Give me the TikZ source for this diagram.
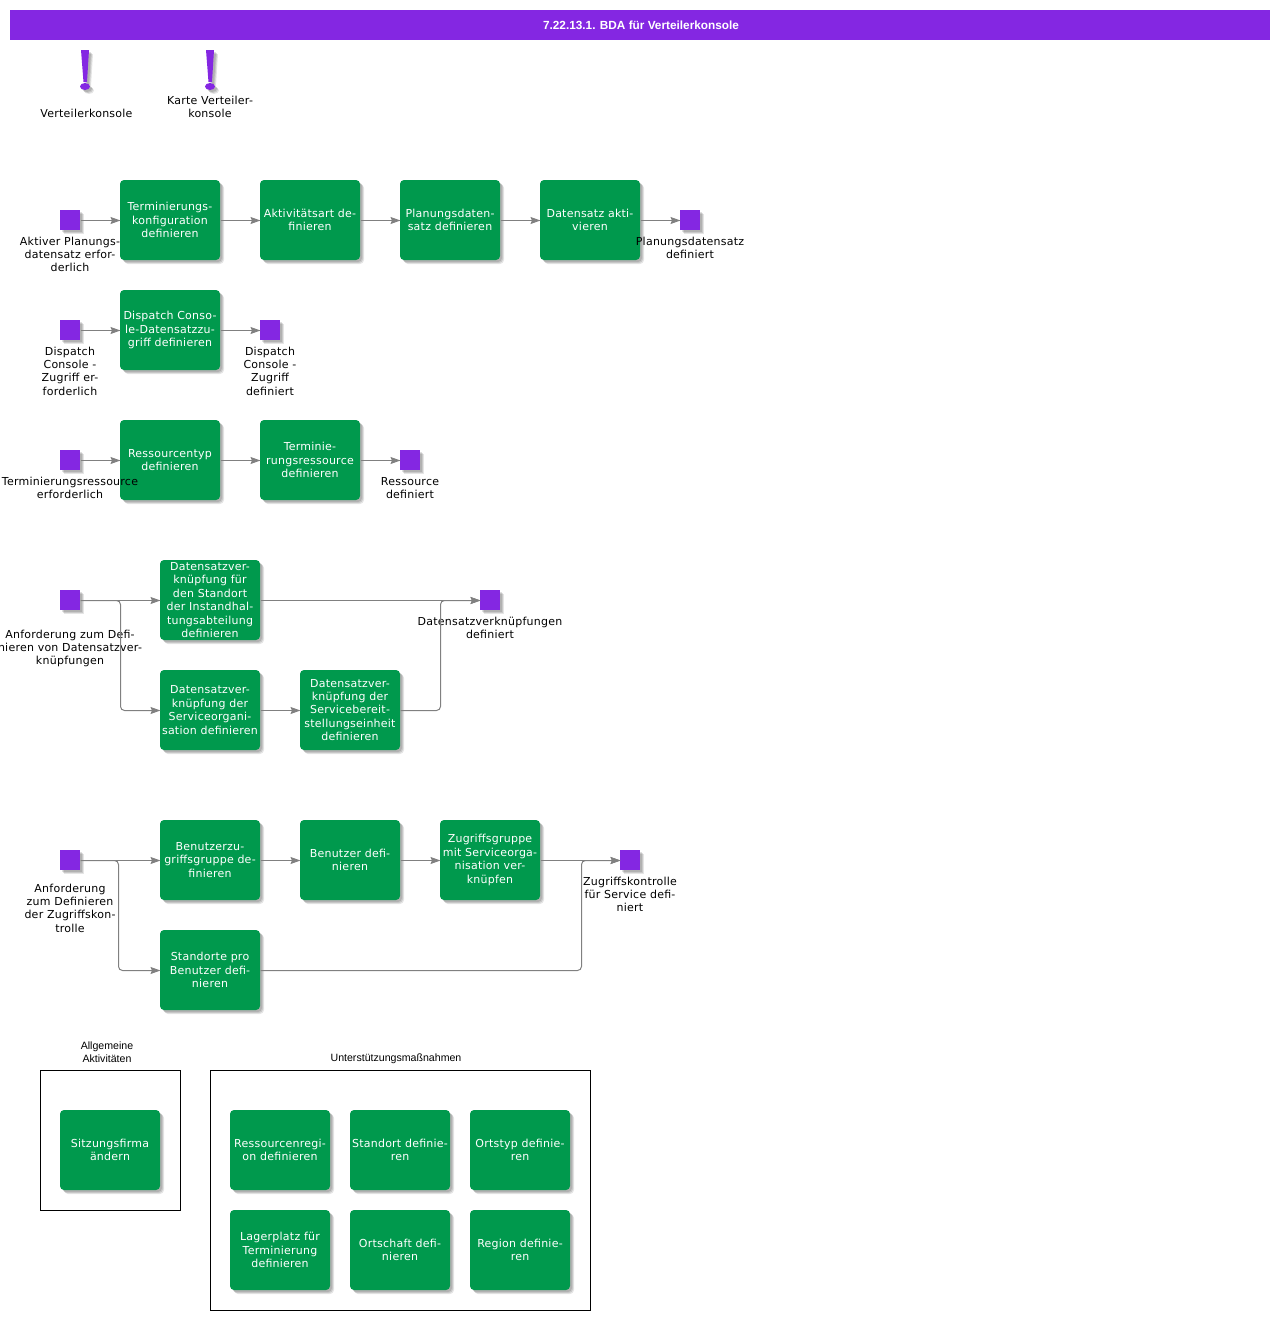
\documentclass[tikz,border=0pt]{standalone}
\usepackage{fontspec}
\setmainfont[LetterSpace=2.2]{DejaVu Sans}
\newfontfamily\headfont{Liberation Sans}
\usetikzlibrary{arrows.meta,shadows}
\definecolor{barpurple}{RGB}{132,39,226}
\definecolor{taskgreen}{RGB}{0,153,77}
\definecolor{flowgray}{RGB}{128,128,128}
\tikzset{
    softshadow/.style={
        drop shadow={shadow xshift=4pt, shadow yshift=-4pt, fill=black, opacity=0.1},
        drop shadow={shadow xshift=3pt, shadow yshift=-3pt, fill=black, opacity=0.12},
        drop shadow={shadow xshift=2pt, shadow yshift=-2pt, fill=black, opacity=0.12}},
    taskbox/.style={rectangle, rounded corners=4pt, fill=taskgreen, text=white, minimum width=100pt, minimum height=80pt, inner sep=0pt, outer sep=0pt, align=center, font=\fontsize{11}{13.4}\selectfont, softshadow},
    eventbox/.style={rectangle, fill=barpurple, minimum size=20pt, inner sep=0pt, outer sep=0pt, softshadow},
    eventlabel/.style={align=center, inner sep=0pt, font=\fontsize{11}{13.4}\selectfont},
    grouplabel/.style={align=center, inner sep=0pt, font=\headfont\fontsize{10.6}{13}\selectfont},
    groupframe/.style={rectangle, draw=black, line width=1pt, inner sep=0pt, outer sep=0pt},
    flow/.style={draw=flowgray, line width=1pt, rounded corners=4pt, transform canvas={xshift=0.5pt, yshift=-0.5pt}, -{Stealth[length=10pt, width=7pt, inset=1.5pt]}},
    alertmark/.style={fill=barpurple, softshadow}
}
\begin{document}
\begin{tikzpicture}[x=1pt, y=-1pt]
    \useasboundingbox (0, 0) rectangle (1280, 1320);

    \node[rectangle, fill=barpurple, minimum width=1260pt, minimum height=30pt, inner sep=0pt, outer sep=0pt, text=white, font=\headfont\bfseries\fontsize{11.8}{14}\selectfont, text depth=0pt, text height=8.5pt] (title) at (640, 25) {\hspace{2pt}7.22.13.1. BDA für Verteilerkonsole};

    \fill[alertmark] (81, 50) -- (89, 50) -- (87, 82) -- (83.5, 82) -- cycle;
    \fill[alertmark] (85, 86.5) ellipse (5 and 3.5);
    \fill[alertmark] (206, 50) -- (214, 50) -- (212, 82) -- (208.5, 82) -- cycle;
    \fill[alertmark] (210, 86.5) ellipse (5 and 3.5);
    \node[eventlabel] (consolelabel) at (86.5, 113) {Verteilerkonsole};
    \node[eventlabel] (maplabel) at (210, 107) {Karte Verteiler-\\konsole};

    \node[eventbox] (startA) at (70, 220) {};
    \node[taskbox] (config) at (170, 220) {Terminierungs-\\konfiguration\\definieren};
    \node[taskbox] (activity) at (310, 220) {Aktivitätsart de-\\finieren};
    \node[taskbox] (planset) at (450, 220) {Planungsdaten-\\satz definieren};
    \node[taskbox] (activate) at (590, 220) {Datensatz akti-\\vieren};
    \node[eventbox] (endA) at (690, 220) {};
    \node[eventlabel] (startAlabel) at (70, 254.4) {Aktiver Planungs-\\datensatz erfor-\\derlich};
    \node[eventlabel] (endAlabel) at (690, 248) {Planungsdatensatz\\definiert};

    \draw[flow] (startA) to (config);
    \draw[flow] (config) to (activity);
    \draw[flow] (activity) to (planset);
    \draw[flow] (planset) to (activate);
    \draw[flow] (activate) to (endA);

    \node[eventbox] (startB) at (70, 330) {};
    \node[taskbox] (dispatch) at (170, 330) {Dispatch Conso-\\le-Datensatzzu-\\griff definieren};
    \node[eventbox] (endB) at (270, 330) {};
    \node[eventlabel] (startBlabel) at (70, 371) {Dispatch\\Console -\\Zugriff er-\\forderlich};
    \node[eventlabel] (endBlabel) at (270, 371) {Dispatch\\Console -\\Zugriff\\definiert};

    \draw[flow] (startB) to (dispatch);
    \draw[flow] (dispatch) to (endB);

    \node[eventbox] (startC) at (70, 460) {};
    \node[taskbox] (restype) at (170, 460) {Ressourcentyp\\definieren};
    \node[taskbox] (schedres) at (310, 460) {Terminie-\\rungsressource\\definieren};
    \node[eventbox] (endC) at (410, 460) {};
    \node[eventlabel] (startClabel) at (70, 488) {Terminierungsressource\\erforderlich};
    \node[eventlabel] (endClabel) at (410, 488) {Ressource\\definiert};

    \draw[flow] (startC) to (restype);
    \draw[flow] (restype) to (schedres);
    \draw[flow] (schedres) to (endC);

    \node[eventbox] (startD) at (70, 600) {};
    \node[taskbox] (linksite) at (210, 600) {Datensatzver-\\knüpfung für\\den Standort\\der Instandhal-\\tungsabteilung\\definieren};
    \node[taskbox] (linkorg) at (210, 710) {Datensatzver-\\knüpfung der\\Serviceorgani-\\sation definieren};
    \node[taskbox] (linkunit) at (350, 710) {Datensatzver-\\knüpfung der\\Servicebereit-\\stellungseinheit\\definieren};
    \node[eventbox] (endD) at (490, 600) {};
    \node[eventlabel] (startDlabel) at (70, 648.4) {Anforderung zum Defi-\\nieren von Datensatzver-\\knüpfungen};
    \node[eventlabel] (endDlabel) at (490, 628) {Datensatzverknüpfungen\\definiert};
    \coordinate (splitD) at (120, 600);
    \coordinate (joinD) at (440, 600);

    \draw[flow] (startD) to (linksite);
    \draw[flow] (startD) -- (splitD) -- (splitD |- linkorg) -- (linkorg);
    \draw[flow] (linkorg) to (linkunit);
    \draw[flow] (linksite) to (endD);
    \draw[flow] (linkunit) -- (joinD |- linkunit) -- (joinD) -- (endD);

    \node[eventbox] (startE) at (70, 860) {};
    \node[taskbox] (usergroup) at (210, 860) {Benutzerzu-\\griffsgruppe de-\\finieren};
    \node[taskbox] (userdef) at (350, 860) {Benutzer defi-\\nieren};
    \node[taskbox] (accessgroup) at (490, 860) {Zugriffsgruppe\\mit Serviceorga-\\nisation ver-\\knüpfen};
    \node[taskbox] (usersites) at (210, 970) {Standorte pro\\Benutzer defi-\\nieren};
    \node[eventbox] (endE) at (630, 860) {};
    \node[eventlabel] (startElabel) at (70, 908) {Anforderung\\zum Definieren\\der Zugriffskon-\\trolle};
    \node[eventlabel] (endElabel) at (630, 894.4) {Zugriffskontrolle\\für Service defi-\\niert};
    \coordinate (splitE) at (118, 860);
    \coordinate (joinE) at (581, 860);

    \draw[flow] (startE) to (usergroup);
    \draw[flow] (startE) -- (splitE) -- (splitE |- usersites) -- (usersites);
    \draw[flow] (usergroup) to (userdef);
    \draw[flow] (userdef) to (accessgroup);
    \draw[flow] (accessgroup) to (endE);
    \draw[flow] (usersites) -- (joinE |- usersites) -- (joinE) -- (endE);

    \node[groupframe, minimum width=140pt, minimum height=140pt] (generalframe) at (110.5, 1140.5) {};
    \node[grouplabel] (generallabel) at (107, 1052.5) {Allgemeine\\Aktivitäten};
    \node[taskbox] (company) at (110, 1150) {Sitzungsfirma\\ändern};

    \node[groupframe, minimum width=380pt, minimum height=240pt] (supportframe) at (400.5, 1190.5) {};
    \node[grouplabel] (supportlabel) at (396, 1059) {Unterstützungsmaßnahmen};
    \node[taskbox] (resregion) at (280, 1150) {Ressourcenregi-\\on definieren};
    \node[taskbox] (sitedef) at (400, 1150) {Standort definie-\\ren};
    \node[taskbox] (placetype) at (520, 1150) {Ortstyp definie-\\ren};
    \node[taskbox] (storage) at (280, 1250) {Lagerplatz für\\Terminierung\\definieren};
    \node[taskbox] (town) at (400, 1250) {Ortschaft defi-\\nieren};
    \node[taskbox] (region) at (520, 1250) {Region definie-\\ren};
\end{tikzpicture}
\end{document}
